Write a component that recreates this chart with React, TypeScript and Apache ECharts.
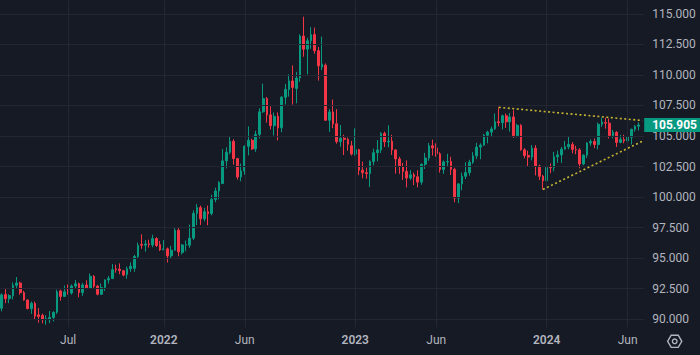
import React, { useEffect, useRef } from "react";
import * as echarts from "echarts";

// [week (Monday), open, close, low, high]
type Candle = [string, number, number, number, number];

const candles2021: Candle[] = [
  ["2021-03-01", 90.88, 91.98, 90.63, 92.1],
  ["2021-03-08", 92.0, 91.67, 91.3, 92.5],
  ["2021-03-15", 91.67, 91.92, 91.3, 92.03],
  ["2021-03-22", 91.9, 92.76, 91.6, 93.0],
  ["2021-03-29", 92.76, 92.95, 92.5, 93.44],
  ["2021-04-05", 92.95, 92.16, 91.99, 93.05],
  ["2021-04-12", 92.16, 91.56, 91.5, 92.3],
  ["2021-04-19", 91.56, 90.85, 90.8, 91.6],
  ["2021-04-26", 90.85, 91.28, 90.42, 91.43],
  ["2021-05-03", 91.28, 90.23, 90.0, 91.43],
  ["2021-05-10", 90.34, 90.2, 89.69, 90.9],
  ["2021-05-17", 90.3, 90.0, 89.64, 90.44],
  ["2021-05-24", 90.0, 90.03, 89.53, 90.3],
  ["2021-05-31", 89.95, 90.13, 89.66, 90.66],
  ["2021-06-07", 90.13, 90.55, 89.8, 90.62],
  ["2021-06-14", 90.55, 92.22, 90.4, 92.4],
  ["2021-06-21", 92.3, 91.85, 91.5, 92.4],
  ["2021-06-28", 91.85, 92.23, 91.8, 92.74],
  ["2021-07-05", 92.23, 92.13, 92.0, 92.83],
  ["2021-07-12", 92.13, 92.7, 92.0, 92.83],
  ["2021-07-19", 92.7, 92.88, 92.5, 93.19],
  ["2021-07-26", 92.9, 92.17, 91.78, 92.98],
  ["2021-08-02", 92.17, 92.79, 91.9, 92.96],
  ["2021-08-09", 92.79, 92.52, 92.45, 93.17],
  ["2021-08-16", 92.52, 93.5, 92.47, 93.73],
  ["2021-08-23", 93.5, 92.69, 92.55, 93.6],
  ["2021-08-30", 92.69, 92.03, 91.94, 92.8],
  ["2021-09-06", 92.03, 92.58, 92.0, 92.9],
  ["2021-09-13", 92.58, 93.2, 92.3, 93.25],
  ["2021-09-20", 93.2, 93.31, 92.9, 93.53],
  ["2021-09-27", 93.31, 94.04, 93.3, 94.5],
  ["2021-10-04", 94.1, 94.05, 93.8, 94.45],
  ["2021-10-11", 94.09, 93.96, 93.67, 94.56],
  ["2021-10-18", 93.96, 93.6, 93.5, 94.0],
  ["2021-10-25", 93.64, 94.12, 93.3, 94.3],
  ["2021-11-01", 94.12, 94.32, 93.87, 94.64],
  ["2021-11-08", 94.15, 95.12, 93.87, 95.26],
  ["2021-11-15", 95.12, 96.03, 94.95, 96.26],
  ["2021-11-22", 96.1, 96.05, 95.75, 96.94],
  ["2021-11-29", 96.05, 96.15, 95.52, 96.47],
  ["2021-12-06", 96.16, 96.1, 95.86, 96.5],
  ["2021-12-13", 96.07, 96.6, 95.88, 96.91],
  ["2021-12-20", 96.6, 96.02, 95.9, 96.7],
  ["2021-12-27", 96.1, 95.67, 95.57, 96.4],
];

const candles2022: Candle[] = [
  ["2022-01-03", 95.67, 95.75, 95.66, 96.47],
  ["2022-01-10", 95.75, 95.17, 94.63, 95.86],
  ["2022-01-17", 95.17, 95.64, 95.0, 96.0],
  ["2022-01-24", 95.64, 97.28, 95.6, 97.44],
  ["2022-01-31", 97.28, 95.51, 95.14, 97.45],
  ["2022-02-07", 95.45, 96.07, 95.29, 96.15],
  ["2022-02-14", 96.05, 96.1, 95.55, 96.43],
  ["2022-02-21", 96.05, 96.63, 95.83, 97.74],
  ["2022-02-28", 96.63, 98.66, 96.47, 98.91],
  ["2022-03-07", 98.66, 99.13, 97.7, 99.42],
  ["2022-03-14", 99.13, 98.21, 97.71, 99.29],
  ["2022-03-21", 98.21, 98.79, 98.0, 99.11],
  ["2022-03-28", 98.79, 98.64, 97.68, 99.3],
  ["2022-04-04", 98.64, 99.8, 98.5, 100.19],
  ["2022-04-11", 99.8, 100.5, 99.57, 100.76],
  ["2022-04-18", 100.5, 101.18, 99.81, 101.3],
  ["2022-04-25", 101.1, 102.96, 101.1, 103.93],
  ["2022-05-02", 102.96, 103.66, 102.35, 104.07],
  ["2022-05-09", 103.66, 104.56, 103.5, 105.01],
  ["2022-05-16", 104.56, 103.15, 102.65, 104.73],
  ["2022-05-23", 103.15, 101.64, 101.43, 103.2],
  ["2022-05-30", 101.64, 102.14, 101.29, 102.74],
  ["2022-06-06", 102.14, 104.15, 101.83, 104.24],
  ["2022-06-13", 104.15, 104.65, 103.41, 105.79],
  ["2022-06-20", 104.65, 103.94, 103.86, 104.78],
  ["2022-06-27", 103.94, 105.13, 103.7, 105.43],
  ["2022-07-04", 105.13, 106.98, 104.8, 107.27],
  ["2022-07-11", 106.98, 108.07, 106.9, 109.29],
  ["2022-07-18", 108.07, 106.73, 106.1, 108.2],
  ["2022-07-25", 106.73, 105.85, 105.54, 107.43],
  ["2022-08-01", 105.85, 106.61, 105.05, 106.93],
  ["2022-08-08", 106.61, 105.68, 104.64, 106.93],
  ["2022-08-15", 105.68, 108.17, 105.3, 108.28],
  ["2022-08-22", 108.17, 108.82, 107.58, 109.27],
  ["2022-08-29", 108.82, 109.51, 108.23, 110.06],
  ["2022-09-05", 109.51, 108.98, 107.58, 110.79],
  ["2022-09-12", 108.9, 109.76, 107.68, 110.26],
  ["2022-09-19", 109.76, 113.19, 109.44, 113.33],
  ["2022-09-26", 113.19, 112.12, 111.5, 114.78],
  ["2022-10-03", 112.12, 112.8, 110.05, 113.05],
  ["2022-10-10", 112.8, 113.31, 112.15, 113.92],
  ["2022-10-17", 113.31, 111.99, 111.74, 113.89],
  ["2022-10-24", 111.99, 110.75, 109.54, 112.3],
  ["2022-10-31", 110.65, 110.9, 110.4, 113.15],
  ["2022-11-07", 110.8, 106.29, 106.27, 110.95],
  ["2022-11-14", 106.29, 106.97, 105.34, 107.2],
  ["2022-11-21", 106.97, 106.0, 105.64, 107.99],
  ["2022-11-28", 106.0, 104.54, 104.37, 107.2],
  ["2022-12-05", 104.54, 104.82, 104.12, 105.9],
  ["2022-12-12", 104.82, 104.72, 103.44, 105.1],
  ["2022-12-19", 104.72, 104.32, 103.8, 104.87],
  ["2022-12-26", 104.2, 103.52, 103.4, 104.6],
];

const candles2023: Candle[] = [
  ["2023-01-02", 103.52, 103.88, 103.4, 105.63],
  ["2023-01-09", 103.88, 102.2, 101.79, 103.95],
  ["2023-01-16", 102.2, 101.99, 101.53, 102.9],
  ["2023-01-23", 101.99, 101.92, 101.5, 102.4],
  ["2023-01-30", 101.92, 102.92, 100.82, 103.0],
  ["2023-02-06", 102.92, 103.63, 102.6, 103.96],
  ["2023-02-13", 103.63, 103.86, 102.93, 104.67],
  ["2023-02-20", 103.86, 105.21, 103.6, 105.32],
  ["2023-02-27", 105.21, 104.52, 104.1, 105.36],
  ["2023-03-06", 104.52, 104.58, 104.07, 105.88],
  ["2023-03-13", 104.58, 103.86, 103.45, 105.1],
  ["2023-03-20", 103.86, 103.12, 101.92, 103.9],
  ["2023-03-27", 103.12, 102.51, 101.9, 103.3],
  ["2023-04-03", 102.51, 102.1, 101.4, 102.8],
  ["2023-04-10", 102.1, 101.55, 100.79, 103.0],
  ["2023-04-17", 101.55, 101.82, 101.4, 102.2],
  ["2023-04-24", 101.82, 101.66, 100.98, 102.0],
  ["2023-05-01", 101.66, 101.22, 100.8, 102.2],
  ["2023-05-08", 101.22, 102.68, 101.0, 102.75],
  ["2023-05-15", 102.68, 103.19, 102.3, 103.62],
  ["2023-05-22", 103.19, 104.2, 102.97, 104.43],
  ["2023-05-29", 104.2, 104.01, 103.4, 104.7],
  ["2023-06-05", 104.01, 103.54, 103.3, 104.4],
  ["2023-06-12", 103.54, 102.26, 102.0, 103.67],
  ["2023-06-19", 102.26, 102.87, 101.9, 103.0],
  ["2023-06-26", 102.87, 102.91, 102.5, 103.54],
  ["2023-07-03", 102.91, 102.27, 101.8, 103.3],
  ["2023-07-10", 102.27, 99.91, 99.57, 102.4],
  ["2023-07-17", 99.91, 101.07, 99.5, 101.15],
  ["2023-07-24", 101.07, 101.7, 100.55, 102.0],
  ["2023-07-31", 101.7, 102.0, 101.47, 102.84],
  ["2023-08-07", 102.0, 102.85, 101.75, 103.05],
  ["2023-08-14", 102.85, 103.37, 102.7, 103.68],
  ["2023-08-21", 103.37, 104.09, 103.1, 104.44],
  ["2023-08-28", 104.09, 104.25, 103.1, 104.4],
  ["2023-09-04", 104.25, 105.06, 104.2, 105.16],
  ["2023-09-11", 105.06, 105.32, 104.4, 105.43],
  ["2023-09-18", 105.32, 105.58, 104.9, 105.78],
  ["2023-09-25", 105.58, 106.17, 105.5, 106.84],
  ["2023-10-02", 106.17, 106.09, 105.8, 107.35],
  ["2023-10-09", 106.09, 106.66, 105.54, 106.75],
  ["2023-10-16", 106.66, 106.16, 105.66, 106.85],
  ["2023-10-23", 106.16, 106.56, 105.36, 106.89],
  ["2023-10-30", 106.56, 105.02, 104.84, 107.11],
  ["2023-11-06", 105.02, 105.87, 104.88, 106.0],
  ["2023-11-13", 105.87, 103.87, 103.79, 105.97],
  ["2023-11-20", 103.87, 103.4, 103.17, 104.0],
  ["2023-11-27", 103.4, 103.27, 102.46, 103.8],
  ["2023-12-04", 103.27, 104.0, 103.0, 104.26],
  ["2023-12-11", 104.0, 102.55, 101.77, 104.25],
  ["2023-12-18", 102.55, 101.7, 101.4, 102.65],
  ["2023-12-25", 101.7, 101.33, 100.62, 101.8],
];

const candles2024: Candle[] = [
  ["2024-01-01", 101.33, 102.42, 101.3, 102.9],
  ["2024-01-08", 102.42, 102.4, 101.96, 102.75],
  ["2024-01-15", 102.4, 103.29, 102.1, 103.7],
  ["2024-01-22", 103.29, 103.45, 102.8, 103.8],
  ["2024-01-29", 103.45, 103.92, 102.8, 104.1],
  ["2024-02-05", 103.92, 104.11, 103.9, 104.6],
  ["2024-02-12", 104.11, 104.3, 103.92, 104.97],
  ["2024-02-19", 104.3, 103.9, 103.58, 104.5],
  ["2024-02-26", 103.9, 103.86, 103.5, 104.2],
  ["2024-03-04", 103.86, 102.71, 102.35, 104.0],
  ["2024-03-11", 102.71, 103.43, 102.6, 103.5],
  ["2024-03-18", 103.43, 104.43, 103.2, 104.49],
  ["2024-03-25", 104.43, 104.55, 104.2, 104.73],
  ["2024-04-01", 104.55, 104.3, 104.0, 104.8],
  ["2024-04-08", 104.3, 105.96, 103.9, 106.1],
  ["2024-04-15", 105.96, 106.15, 105.75, 106.5],
  ["2024-04-22", 106.1, 106.05, 105.6, 106.5],
  ["2024-04-29", 106.05, 105.03, 104.8, 106.43],
  ["2024-05-06", 105.03, 105.3, 104.8, 105.5],
  ["2024-05-13", 105.3, 104.48, 104.1, 105.4],
  ["2024-05-20", 104.48, 104.72, 104.4, 105.08],
  ["2024-05-27", 104.72, 104.6, 104.4, 105.1],
  ["2024-06-03", 104.6, 104.89, 104.0, 104.95],
  ["2024-06-10", 104.89, 105.55, 104.3, 105.6],
  ["2024-06-17", 105.55, 105.8, 105.35, 105.9],
  ["2024-06-24", 105.8, 105.905, 105.45, 106.12],
];

// one empty week at the right edge
const padWeeks = ["2024-07-01"];

const yTicks = [90, 92.5, 95, 97.5, 100, 102.5, 105, 107.5, 110, 112.5, 115];

const xTickDates = ["2021-07-05", "2022-01-03", "2022-06-06", "2023-01-02", "2023-06-05", "2024-01-01", "2024-06-03"];
const xTickLabels = ["Jul", "2022", "Jun", "2023", "Jun", "2024", "Jun"];

const lastPrice = 105.905;

const upperTrend: [string, number][] = [["2023-10-02", 107.35], ["2024-07-01", 106.27]];
const lowerTrend: [string, number][] = [["2023-12-25", 100.62], ["2024-07-01", 104.57]];

const BG = "#161A25";
const GRID = "#242733";
const TXT = "#B2B5BE";
const UP = "#089981";
const DOWN = "#F23645";
const TREND = "#C8B632";
const FONT = "Roboto, 'Noto Sans', sans-serif";

export default function App() {
  const ref = useRef<HTMLDivElement>(null);

  useEffect(() => {
    if (!ref.current) return;
    const chart = echarts.init(ref.current, undefined, { renderer: "svg" });

    const candles = [...candles2021, ...candles2022, ...candles2023, ...candles2024];
    const categories = [...candles.map((c) => c[0]), ...padWeeks];
    const ohlc = candles.map((c) => [c[1], c[2], c[3], c[4]]);
    const blank = categories.map(() => "-");
    const tickIndex: Record<string, string> = {};
    xTickDates.forEach((d, i) => (tickIndex[d] = xTickLabels[i]));

    const option: any = {
      animation: false,
      backgroundColor: BG,
      textStyle: { fontFamily: FONT },
      grid: { left: -1.244, right: 55.8, top: 0, bottom: 28 },
      xAxis: {
        type: "category",
        data: categories,
        boundaryGap: true,
        axisLine: { show: false },
        axisTick: { show: false },
        splitLine: { show: false },
        axisLabel: {
          interval: (_i: number, v: string) => v in tickIndex,
          formatter: (v: string) => {
            const t = tickIndex[v] || "";
            return /^\d{4}$/.test(t) ? `{y|${t}}` : `{m|${t}}`;
          },
          margin: 7,
          rich: {
            y: { color: TXT, fontSize: 12, fontWeight: 600, fontFamily: FONT },
            m: { color: TXT, fontSize: 12, fontFamily: FONT },
          },
        },
      },
      yAxis: {
        type: "value",
        min: 89.3443,
        max: 116.1475,
        axisLine: { show: false },
        axisTick: { show: false },
        axisLabel: { show: false },
        splitLine: { show: false },
      },
      graphic: [
        {
          type: "polygon",
          silent: true,
          shape: {
            points: [
              [667.6, 341.3],
              [671.2, 335.2],
              [678.2, 335.2],
              [681.8, 341.3],
              [678.2, 347.4],
              [671.2, 347.4],
            ],
          },
          style: { fill: "none", stroke: TXT, lineWidth: 1.4 },
        },
        {
          type: "circle",
          silent: true,
          shape: { cx: 674.7, cy: 341.3, r: 2.3 },
          style: { fill: "none", stroke: TXT, lineWidth: 1.4 },
        },
      ],
      series: [
        {
          name: "grid",
          type: "line",
          data: blank,
          z: 0,
          silent: true,
          showSymbol: false,
          markLine: {
            silent: true,
            symbol: ["none", "none"],
            animation: false,
            lineStyle: { color: GRID, width: 1, type: "solid" },
            label: { show: false },
            emphasis: { disabled: true },
            data: [
              ...xTickDates.map((d) => ({ xAxis: d, label: { show: false } })),
              ...yTicks.map((v) => ({
                yAxis: v,
                label: {
                  show: true,
                  position: "end",
                  distance: 8,
                  formatter: v.toFixed(3),
                  color: TXT,
                  fontSize: 12,
                  fontFamily: FONT,
                },
              })),
            ],
          },
        },
        {
          name: "DXY",
          type: "candlestick",
          data: ohlc,
          z: 2,
          barWidth: 2.2,
          silent: true,
          itemStyle: {
            color: UP,
            color0: DOWN,
            borderColor: UP,
            borderColor0: DOWN,
            borderWidth: 1,
          },
        },
        {
          name: "overlay",
          type: "line",
          data: blank,
          z: 5,
          silent: true,
          showSymbol: false,
          markLine: {
            silent: true,
            symbol: ["none", "none"],
            animation: false,
            emphasis: { disabled: true },
            label: { show: false },
            lineStyle: { color: TREND, width: 1.6, type: [2, 2.5] },
            data: [
              [{ coord: upperTrend[0] }, { coord: upperTrend[1] }],
              [{ coord: lowerTrend[0] }, { coord: lowerTrend[1] }],
              {
                yAxis: lastPrice,
                lineStyle: { color: "rgba(0,0,0,0)", width: 0, type: "solid" },
                label: {
                  show: true,
                  position: "end",
                  distance: 0,
                  formatter: lastPrice.toFixed(3),
                  color: "#FFFFFF",
                  fontWeight: "bold",
                  fontSize: 12,
                  fontFamily: FONT,
                  backgroundColor: UP,
                  padding: [1, 8, 1, 8],
                  lineHeight: 12,
                },
              },
            ],
          },
        },
      ],
    };

    chart.setOption(option);
    return () => chart.dispose();
  }, []);

  return (
    <div
      ref={ref}
      style={{ position: "fixed", left: 0, top: 0, width: 700, height: 355 }}
    />
  );
}
